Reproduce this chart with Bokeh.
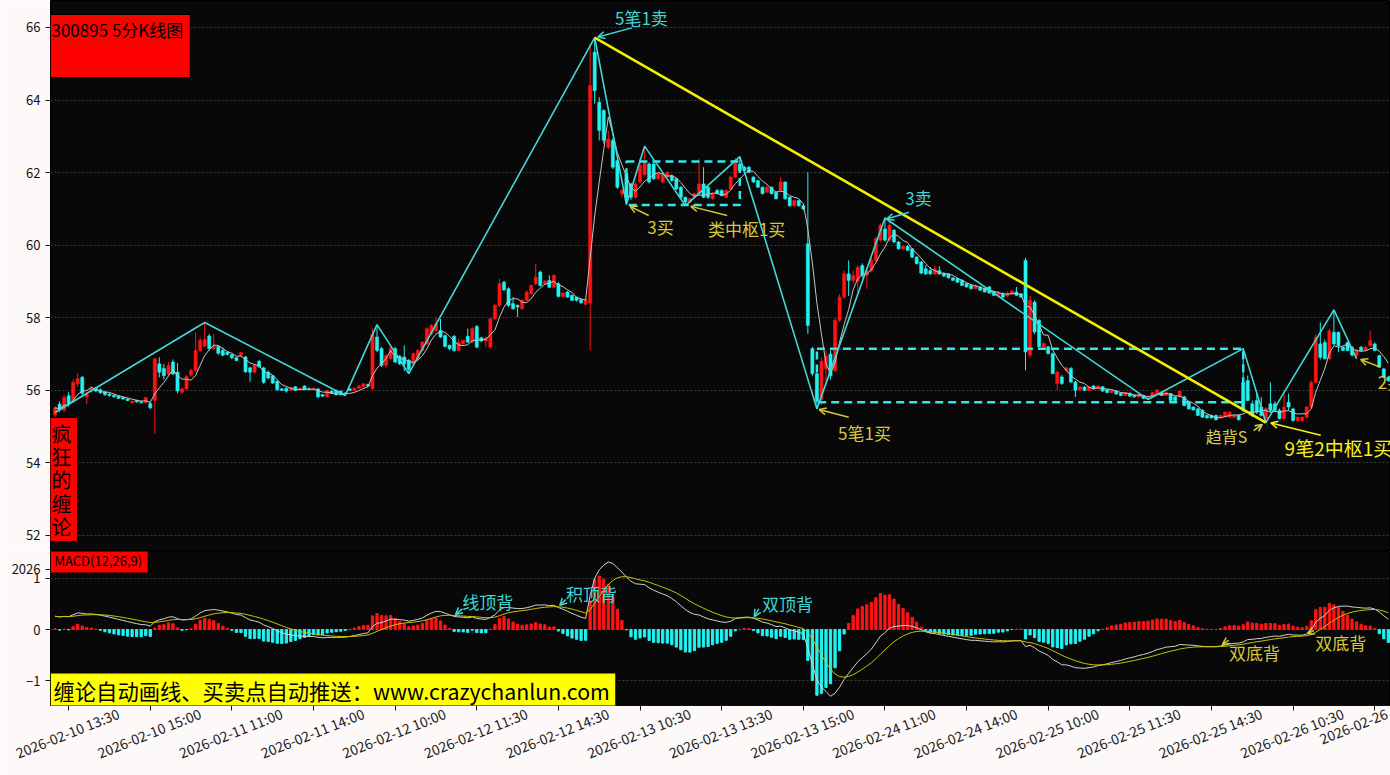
import numpy as np
import pandas as pd
from bokeh.plotting import figure
from bokeh.layouts import column
from bokeh.models import Range1d, FixedTicker, Label, Arrow, OpenHead, ColumnDataSource, LinearAxis
from bokeh.embed import file_html
from bokeh.resources import INLINE

# ---------------- data (5-minute bars, 300895) ----------------
opens = [
    55.32, 55.62, 55.45, 55.85, 55.70, 56.18, 56.36, 55.82, 55.98, 56.06,
    56.02, 55.96, 55.90, 55.86, 55.84, 55.80, 55.76, 55.66, 55.72, 55.68,
    55.66, 55.64, 55.72, 56.73, 56.60, 56.45, 56.78, 56.50, 55.95, 56.04,
    56.42, 56.55, 57.10, 57.22, 57.50, 57.15, 57.20, 57.10, 57.05, 56.98,
    56.90, 56.96, 56.92, 56.62, 56.50, 56.80, 56.62, 56.50, 56.40, 56.25,
    56.04, 56.06, 56.00, 56.10, 56.02, 56.12, 56.04, 56.02, 56.04, 55.88,
    55.82, 55.98, 56.00, 55.98, 55.92, 56.04, 56.00, 56.06, 56.10, 56.16,
    56.05, 57.47, 57.15, 56.69, 56.87, 57.15, 56.94, 56.92, 56.83, 56.73,
    56.87, 57.10, 57.28, 57.56, 57.65, 57.65, 57.51, 57.24, 57.49, 57.10,
    57.28, 57.49, 57.33, 57.76, 57.45, 57.36, 57.19, 57.97, 58.34, 58.98,
    58.80, 58.39, 58.34, 58.25, 58.48, 58.66, 58.94, 59.26, 58.94, 59.03,
    58.84, 58.94, 58.59, 58.71, 58.62, 58.57, 58.50, 58.37, 58.40, 65.32,
    63.94, 63.71, 62.70, 62.89, 62.33, 61.42, 61.97, 61.69, 61.32, 61.74,
    61.95, 62.24, 62.24, 61.83, 61.74, 61.88, 61.92, 61.83, 61.60, 61.32,
    61.19, 61.32, 61.42, 61.69, 61.60, 61.28, 61.51, 61.51, 61.32, 61.55,
    61.88, 62.24, 62.15, 62.15, 61.88, 61.78, 61.60, 61.46, 61.60, 61.46,
    61.51, 61.74, 61.32, 61.09, 61.23, 61.09, 60.04, 57.15, 56.46, 55.75,
    56.60, 57.00, 56.55, 57.93, 58.57, 59.21, 59.03, 59.00, 59.44, 59.17,
    59.30, 59.58, 60.14, 60.45, 60.14, 60.41, 60.09, 59.90, 59.97, 59.90,
    59.67, 59.54, 59.35, 59.30, 59.21, 59.30, 59.22, 59.21, 59.10, 59.08,
    59.03, 58.94, 58.89, 58.80, 58.85, 58.80, 58.85, 58.71, 58.62, 58.66,
    58.60, 58.66, 58.71, 58.66, 59.58, 56.97, 58.43, 57.93, 57.20, 57.20,
    57.01, 56.19, 56.37, 56.55, 56.60, 56.23, 56.02, 56.09, 56.00, 56.12,
    56.04, 56.10, 56.02, 55.94, 55.98, 55.92, 55.86, 55.92, 55.86, 55.82,
    55.86, 55.80, 55.82, 55.91, 55.95, 55.86, 55.91, 55.82, 55.82, 55.82,
    55.67, 55.54, 55.49, 55.45, 55.31, 55.31, 55.31, 55.24, 55.28, 55.26,
    55.26, 55.31, 56.22, 56.27, 55.63, 55.72, 55.54, 55.22, 55.63, 55.63,
    55.45, 55.22, 55.67, 55.49, 55.17, 55.17, 55.26, 55.54, 56.22, 57.28,
    57.32, 56.87, 57.60, 57.60, 57.19, 57.32, 57.19, 56.96, 57.19, 57.10,
    57.23, 57.28, 56.96, 56.59, 56.36,
]
highs = [
    55.56, 55.70, 55.88, 55.95, 56.30, 56.48, 56.40, 55.95, 56.12, 56.10,
    56.05, 55.98, 55.92, 55.90, 55.86, 55.82, 55.78, 55.72, 55.74, 55.72,
    55.82, 55.70, 56.90, 56.91, 56.73, 56.78, 56.85, 56.75, 56.08, 56.42,
    56.60, 57.60, 57.45, 57.87, 57.56, 57.56, 57.25, 57.18, 57.08, 57.00,
    56.92, 57.05, 56.95, 56.65, 56.72, 56.84, 56.65, 56.55, 56.42, 56.28,
    56.06, 56.08, 56.10, 56.12, 56.08, 56.14, 56.08, 56.08, 56.06, 55.90,
    56.02, 56.00, 56.02, 56.00, 55.95, 56.06, 56.08, 56.14, 56.20, 56.18,
    57.70, 57.81, 57.20, 57.00, 57.20, 57.20, 56.98, 57.24, 56.86, 57.04,
    57.14, 57.36, 57.74, 57.83, 58.02, 57.97, 57.54, 57.26, 57.52, 57.42,
    57.40, 57.70, 57.74, 57.80, 57.48, 57.48, 58.00, 58.38, 59.08, 59.02,
    58.84, 58.57, 58.37, 58.52, 58.75, 58.92, 59.49, 59.30, 59.04, 59.17,
    59.20, 58.98, 58.70, 58.74, 58.64, 58.58, 58.52, 58.52, 65.55, 65.72,
    64.08, 63.75, 63.16, 62.95, 62.36, 61.55, 62.00, 61.72, 61.74, 62.40,
    62.73, 62.28, 62.26, 62.00, 62.02, 62.04, 61.95, 61.86, 61.63, 61.34,
    61.30, 61.45, 62.38, 62.15, 61.63, 61.45, 61.55, 61.54, 61.55, 61.92,
    62.40, 62.44, 62.18, 62.18, 61.90, 61.80, 61.62, 61.64, 61.62, 61.48,
    61.87, 61.76, 61.34, 61.25, 61.25, 61.10, 62.01, 57.20, 56.50, 56.90,
    57.10, 57.10, 58.00, 58.65, 59.30, 59.58, 59.30, 59.45, 59.50, 59.35,
    59.65, 60.22, 60.60, 60.75, 60.64, 60.45, 60.12, 60.00, 60.00, 59.92,
    59.70, 59.56, 59.45, 59.40, 59.45, 59.42, 59.25, 59.23, 59.12, 59.10,
    59.06, 58.96, 58.92, 58.92, 58.87, 58.82, 58.88, 58.74, 58.74, 58.70,
    58.72, 58.76, 58.85, 58.68, 59.65, 58.60, 58.48, 57.96, 57.32, 57.22,
    57.04, 56.55, 56.42, 56.65, 56.65, 56.26, 56.12, 56.12, 56.12, 56.15,
    56.14, 56.12, 56.04, 56.02, 56.00, 55.95, 55.96, 55.94, 55.88, 55.90,
    55.88, 55.84, 55.96, 56.04, 55.98, 55.98, 55.93, 55.84, 56.00, 55.85,
    55.70, 55.56, 55.52, 55.48, 55.33, 55.33, 55.33, 55.33, 55.42, 55.42,
    55.33, 55.33, 57.15, 56.41, 55.72, 55.91, 55.82, 55.54, 56.22, 55.70,
    55.50, 55.91, 55.91, 55.52, 55.28, 55.28, 55.56, 56.27, 57.55, 57.87,
    57.40, 57.70, 58.22, 57.62, 57.21, 57.34, 57.22, 57.14, 57.22, 57.22,
    57.64, 57.32, 56.98, 56.62, 56.40,
]
lows = [
    55.22, 55.40, 55.40, 55.55, 55.65, 56.10, 55.85, 55.62, 55.95, 55.95,
    55.90, 55.85, 55.82, 55.80, 55.76, 55.74, 55.70, 55.64, 55.66, 55.64,
    55.64, 55.48, 54.80, 56.36, 56.30, 56.40, 56.42, 55.92, 55.90, 56.00,
    56.38, 56.50, 57.05, 57.18, 57.10, 57.12, 56.98, 56.94, 56.96, 56.86,
    56.80, 56.94, 56.48, 56.24, 56.46, 56.62, 56.18, 56.30, 56.18, 55.98,
    55.98, 55.94, 55.98, 55.98, 56.00, 56.00, 56.00, 56.00, 55.78, 55.82,
    55.80, 55.90, 55.86, 55.86, 55.86, 55.98, 55.98, 56.04, 56.08, 56.10,
    56.00, 57.05, 56.65, 56.62, 56.85, 56.75, 56.70, 56.53, 56.46, 56.70,
    56.85, 57.08, 57.25, 57.52, 57.62, 57.44, 57.18, 57.10, 57.06, 57.08,
    57.26, 57.30, 57.30, 57.16, 57.33, 57.19, 57.15, 57.94, 58.30, 58.74,
    58.30, 58.22, 58.02, 58.22, 58.45, 58.63, 58.90, 58.86, 58.92, 58.82,
    58.82, 58.56, 58.56, 58.55, 58.46, 58.45, 58.39, 58.34, 57.10, 63.90,
    62.89, 62.80, 62.65, 62.10, 61.55, 61.32, 61.12, 61.25, 61.28, 61.70,
    61.90, 61.70, 61.80, 61.80, 61.70, 61.85, 61.75, 61.52, 61.28, 61.09,
    61.16, 61.30, 61.40, 61.30, 61.28, 61.25, 61.40, 61.35, 61.30, 61.52,
    61.85, 62.02, 62.02, 61.98, 61.72, 61.58, 61.40, 61.44, 61.40, 61.26,
    61.48, 61.25, 61.06, 61.06, 61.06, 60.96, 57.56, 56.40, 55.49, 55.60,
    56.20, 56.30, 56.50, 57.88, 58.52, 58.60, 58.95, 58.70, 59.10, 58.80,
    59.25, 59.55, 60.10, 60.10, 60.10, 60.05, 59.88, 59.86, 59.84, 59.65,
    59.47, 59.20, 59.18, 59.18, 59.18, 59.18, 59.12, 59.08, 59.01, 58.96,
    58.88, 58.83, 58.78, 58.78, 58.74, 58.70, 58.66, 58.60, 58.60, 58.55,
    58.58, 58.64, 58.60, 58.55, 56.55, 56.90, 57.55, 57.18, 57.15, 57.00,
    56.45, 56.00, 56.15, 56.50, 56.20, 55.82, 55.98, 55.98, 55.98, 56.02,
    56.02, 55.96, 55.92, 55.92, 55.88, 55.84, 55.84, 55.82, 55.80, 55.80,
    55.76, 55.75, 55.80, 55.88, 55.84, 55.84, 55.70, 55.70, 55.80, 55.56,
    55.47, 55.44, 55.29, 55.24, 55.22, 55.22, 55.17, 55.22, 55.26, 55.24,
    55.24, 55.17, 55.40, 55.70, 55.26, 55.35, 55.28, 55.11, 55.40, 55.40,
    55.20, 55.17, 55.45, 55.13, 55.13, 55.12, 55.22, 55.50, 56.20, 56.85,
    56.85, 56.85, 57.25, 57.05, 57.08, 57.08, 56.94, 56.87, 57.08, 57.08,
    57.20, 57.08, 56.62, 56.34, 56.24,
]
closes = [
    55.52, 55.46, 55.80, 55.62, 56.22, 56.32, 55.92, 55.90, 56.06, 55.98,
    55.94, 55.88, 55.86, 55.82, 55.78, 55.76, 55.72, 55.70, 55.68, 55.66,
    55.80, 55.52, 56.87, 56.50, 56.40, 56.68, 56.45, 55.98, 56.04, 56.38,
    56.55, 57.10, 57.38, 57.40, 57.15, 57.22, 57.02, 56.97, 56.99, 56.90,
    56.82, 57.04, 56.51, 56.50, 56.70, 56.65, 56.22, 56.34, 56.20, 56.02,
    56.00, 55.98, 56.08, 56.00, 56.06, 56.02, 56.02, 56.06, 55.82, 55.84,
    56.00, 55.92, 55.88, 55.88, 55.90, 56.00, 56.06, 56.12, 56.18, 56.12,
    57.55, 57.10, 56.69, 56.96, 57.15, 56.78, 56.73, 56.73, 56.58, 57.01,
    57.10, 57.33, 57.70, 57.79, 57.83, 57.47, 57.21, 57.15, 57.10, 57.33,
    57.38, 57.33, 57.70, 57.19, 57.36, 57.45, 57.97, 58.34, 58.94, 58.77,
    58.34, 58.25, 58.30, 58.48, 58.71, 58.89, 59.12, 58.89, 59.01, 58.84,
    59.17, 58.59, 58.68, 58.57, 58.48, 58.48, 58.41, 58.50, 64.40, 64.26,
    63.16, 62.89, 62.93, 62.15, 61.60, 61.51, 61.32, 61.32, 61.69, 62.20,
    62.28, 61.74, 61.83, 61.97, 61.97, 62.01, 61.78, 61.55, 61.32, 61.19,
    61.28, 61.42, 61.69, 61.32, 61.32, 61.42, 61.42, 61.37, 61.51, 61.88,
    62.29, 62.06, 62.06, 62.01, 61.74, 61.60, 61.42, 61.60, 61.42, 61.28,
    61.74, 61.28, 61.09, 61.23, 61.09, 61.00, 57.79, 56.46, 55.70, 56.80,
    56.95, 56.40, 57.93, 58.57, 59.21, 59.03, 59.17, 59.39, 59.17, 59.30,
    59.58, 60.18, 60.55, 60.14, 60.55, 60.09, 59.90, 59.97, 59.86, 59.67,
    59.49, 59.23, 59.21, 59.21, 59.35, 59.21, 59.15, 59.10, 59.03, 58.98,
    58.89, 58.85, 58.80, 58.89, 58.76, 58.71, 58.68, 58.62, 58.71, 58.57,
    58.68, 58.74, 58.62, 58.57, 57.06, 58.48, 57.61, 57.20, 57.29, 57.01,
    56.46, 56.50, 56.19, 56.62, 56.23, 56.00, 56.09, 56.00, 56.10, 56.04,
    56.12, 55.98, 55.94, 56.00, 55.90, 55.86, 55.94, 55.84, 55.82, 55.88,
    55.78, 55.82, 55.94, 56.01, 55.86, 55.94, 55.72, 55.72, 55.98, 55.58,
    55.49, 55.46, 55.31, 55.26, 55.24, 55.24, 55.19, 55.31, 55.40, 55.40,
    55.31, 55.19, 55.45, 55.72, 55.31, 55.40, 55.31, 55.50, 55.45, 55.45,
    55.22, 55.54, 55.54, 55.17, 55.26, 55.26, 55.54, 56.22, 57.46, 56.91,
    56.87, 57.64, 57.28, 57.23, 57.10, 57.10, 56.97, 57.10, 57.10, 57.19,
    57.37, 57.10, 56.64, 56.36, 56.27,
]

# x-axis labels: one every 18 bars, first one on bar 3 (the last one is cut by the window edge)
tick_labels = [
    "2026-02-10 13:30", "2026-02-10 15:00", "2026-02-11 11:00", "2026-02-11 14:00",
    "2026-02-12 10:00", "2026-02-12 11:30", "2026-02-12 14:30", "2026-02-13 10:30",
    "2026-02-13 13:30", "2026-02-13 15:00", "2026-02-24 11:00", "2026-02-24 14:00",
    "2026-02-25 10:00", "2026-02-25 11:30", "2026-02-25 14:30", "2026-02-26 10:30",
    "2026-02-26 13:30",
]
price_ticks = [52, 54, 56, 58, 60, 62, 64, 66]
macd_ticks = [-1, 0, 1]

# Chan-theory strokes (bi): bar index and price of each turning point
bi_idx = [0, 33, 64, 71, 78, 119, 126, 130, 139, 151, 168, 183, 241, 262, 267, 282, 287]
bi_price = [55.39, 57.87, 55.86, 57.81, 56.46, 65.72, 61.12, 62.73, 61.09, 62.44,
            55.49, 60.75, 55.75, 57.15, 55.11, 58.22, 56.87]

# pivot zones (zhongshu)
zs_left = [126, 168]
zs_right = [151, 262]
zs_low = [61.11, 55.67]
zs_high = [62.31, 57.15]

# trend line (segment)
trend_idx = [119, 267]
trend_price = [65.72, 55.11]

# MACD(12,26,9) state carried in from bars before the window
EMA12_SEED, EMA26_SEED, DEA_SEED = 55.40, 55.13, 0.25

# ---------------- derived ----------------
o = np.array(opens); h = np.array(highs); l = np.array(lows); c = np.array(closes)
N = len(c)
idx = np.arange(N)

FONT = "Noto Sans CJK SC"
PAGE_BG = "#fdf9f9"
PLOT_BG = "#080808"
RED = "#ff1414"
CYAN = "#22f2f2"
BI_COL = "#44d8d8"
ZS_COL = "#33e6ea"
YEL = "#f2f000"
TXT_CYAN = "#3ed6d6"
TXT_YEL = "#d6c83a"
TXT_KHAKI = "#d8cc5e"
TXT_BRIGHT = "#f6f020"

up = c >= o
colors = [RED if u else CYAN for u in up]
ma5 = pd.Series(c).rolling(5, min_periods=1).mean().values

e12, e26, dea = EMA12_SEED, EMA26_SEED, DEA_SEED
difs, deas, hists = [], [], []
for v in c:
    e12 = e12 + 2.0 / 13.0 * (v - e12)
    e26 = e26 + 2.0 / 27.0 * (v - e26)
    dif = e12 - e26
    dea = dea + 2.0 / 10.0 * (dif - dea)
    difs.append(dif); deas.append(dea); hists.append(2.0 * (dif - dea))
hists = np.array(hists)
hist_colors = [RED if v >= 0 else CYAN for v in hists]

tick_pos = [3 + 18 * k for k in range(len(tick_labels))]

W = 1390
X_END = 294.48
x_range = Range1d(-1.0, X_END)

# ---------------- price panel ----------------
p = figure(width=W, height=551, x_range=x_range, y_range=Range1d(51.559, 66.744),
           output_backend="svg", toolbar_location=None, tools="", x_axis_location=None,
           min_border_left=50, min_border_right=0, min_border_top=0, min_border_bottom=0,
           background_fill_color=PLOT_BG, border_fill_color=PAGE_BG,
           outline_line_color="#000000", outline_line_width=1)
p.yaxis.ticker = FixedTicker(ticks=price_ticks)
p.ygrid.ticker = FixedTicker(ticks=price_ticks)
p.xgrid.visible = False
p.ygrid.grid_line_color = "#3c3c3c"
p.ygrid.grid_line_dash = "2 2"
ax = p.yaxis[0]
ax.major_label_text_font = FONT
ax.major_label_text_font_size = "13px"
ax.major_label_text_color = "#111111"
ax.axis_line_color = None
ax.major_tick_line_color = "#111111"
ax.major_tick_out = 5
ax.major_tick_in = 0
ax.minor_tick_line_color = None

src = ColumnDataSource(dict(x=idx, h=h, l=l, top=np.maximum(o, c), bot=np.minimum(o, c), col=colors))
p.segment(x0="x", y0="h", x1="x", y1="l", line_color="col", line_width=1, source=src)
p.vbar(x="x", width=0.7, top="top", bottom="bot", fill_color="col", line_color="col", line_width=0.5, source=src)
p.line(idx, ma5, line_color="#c4c4c4", line_width=1)

p.line(bi_idx, bi_price, line_color=BI_COL, line_width=1.6)
p.quad(left=zs_left, right=zs_right, bottom=zs_low, top=zs_high, fill_alpha=0,
       line_color=ZS_COL, line_width=2.5, line_dash="8 5")
p.line(trend_idx, trend_price, line_color=YEL, line_width=2.6)

top_signals = [
    dict(t="5笔1卖", col=TXT_CYAN, x=129.3, y=66.28, ax=127.2, ay=65.99, tx=119.7, ty=65.74, s="17px"),
    dict(t="3买", col=TXT_YEL, x=133.5, y=60.52, ax=130.9, ay=60.82, tx=126.8, ty=61.07, s="17px"),
    dict(t="类中枢1买", col=TXT_YEL, x=152.5, y=60.46, ax=148.2, ay=60.82, tx=140.2, ty=61.07, s="17px"),
    dict(t="3卖", col=TXT_CYAN, x=190.4, y=61.32, ax=188.3, ay=60.91, tx=183.4, ty=60.72, s="17px"),
    dict(t="5笔1买", col=TXT_YEL, x=178.5, y=54.84, ax=175.0, ay=55.26, tx=168.5, ty=55.47, s="17px"),
    dict(t="趋背S", col=TXT_KHAKI, x=258.3, y=54.73, ax=264.3, ay=54.89, tx=266.2, ty=55.06, s="16px"),
    dict(t="9笔2中枢1买", col=TXT_BRIGHT, x=283.0, y=54.43, ax=279.1, ay=54.76, tx=268.1, ty=55.10, s="19px"),
    dict(t="2买", col=TXT_YEL, x=294.6, y=56.24, ax=292.2, ay=56.64, tx=287.9, ty=56.85, s="17px"),
]


def add_signals(fig, sigs):
    for sg in sigs:
        fig.add_layout(Label(x=sg["x"], y=sg["y"], text=sg["t"], text_color=sg["col"],
                             text_font=FONT, text_font_size=sg["s"],
                             text_align="center", text_baseline="middle"))
        fig.add_layout(Arrow(x_start=sg["ax"], y_start=sg["ay"], x_end=sg["tx"], y_end=sg["ty"],
                             line_color=sg["col"], line_width=1.5,
                             end=OpenHead(size=7, line_color=sg["col"], line_width=1.5)))


add_signals(p, top_signals)

# boxes (screen units relative to the frame's bottom-left; frame bottom at page y=551)
p.add_layout(Label(x=0, y=537, x_units="screen", y_units="screen", text="300895 5分K线图",
                   text_font=FONT, text_font_size="17px", text_color="#000000",
                   text_align="left", text_baseline="top",
                   background_fill_color="#ff0000", border_line_color="#000000", border_line_width=1,
                   padding=dict(left=1, right=7, top=2, bottom=36)))
p.add_layout(Label(x=11, y=134, x_units="screen", y_units="screen", text="疯\n狂\n的\n缠\n论",
                   text_font=FONT, text_font_size="20px", text_color="#000000", text_line_height=0.81,
                   text_align="center", text_baseline="top",
                   background_fill_color="#ff0000", border_line_color="#000000", border_line_width=1,
                   padding=dict(left=6, right=6, top=1, bottom=0)))

# ---------------- MACD panel ----------------
q = figure(width=W, height=224, x_range=x_range, y_range=Range1d(-1.476, 1.515),
           output_backend="svg", toolbar_location=None, tools="",
           min_border_left=50, min_border_right=0, min_border_top=0, min_border_bottom=70,
           background_fill_color=PLOT_BG, border_fill_color=PAGE_BG,
           outline_line_color="#000000", outline_line_width=1)
q.yaxis.ticker = FixedTicker(ticks=macd_ticks + [1.175])
q.yaxis.major_label_overrides = {1.175: "2026"}
q.ygrid.ticker = FixedTicker(ticks=macd_ticks)
q.xgrid.visible = False
q.ygrid.grid_line_color = "#3c3c3c"
q.ygrid.grid_line_dash = "2 2"
ay_ = q.yaxis[0]
ay_.major_label_text_font = FONT
ay_.major_label_text_font_size = "13px"
ay_.major_label_text_color = "#111111"
ay_.axis_line_color = None
ay_.major_tick_line_color = "#111111"
ay_.major_tick_out = 5
ay_.major_tick_in = 0
ay_.minor_tick_line_color = None

# tick marks on the bar positions (no text) ...
axx = q.xaxis[0]
axx.ticker = FixedTicker(ticks=tick_pos)
axx.major_label_overrides = {pos: "" for pos in tick_pos}
axx.major_label_standoff = 0
axx.major_tick_out = 5
axx.major_tick_in = 0
axx.minor_tick_line_color = None
axx.axis_line_color = "#111111"
axx.major_tick_line_color = "#111111"

# ... and slanted labels centred on those ticks (Bokeh ends slanted labels at the anchor);
# the last label runs past the window edge, so only its visible part is kept at the edge
LABEL_SHIFT = 11.0
lab_pos, lab_txt = [], []
for pos, lab in zip(tick_pos, tick_labels):
    if pos + LABEL_SHIFT < X_END:
        lab_pos.append(pos + LABEL_SHIFT); lab_txt.append(lab)
    else:
        lab_pos.append(X_END - 0.1); lab_txt.append(lab[:10])
lab_axis = LinearAxis(ticker=FixedTicker(ticks=lab_pos),
                      major_label_overrides={lp: lt for lp, lt in zip(lab_pos, lab_txt)},
                      major_label_orientation=0.38, major_label_standoff=2,
                      major_label_text_font=FONT, major_label_text_font_size="14px",
                      major_label_text_color="#222222",
                      axis_line_color=None, major_tick_line_color=None, minor_tick_line_color=None,
                      major_tick_out=0, major_tick_in=0)
q.add_layout(lab_axis, "below")

q.vbar(x=idx, width=0.5, top=hists, bottom=0, fill_color=hist_colors, line_color=hist_colors)
q.line(idx, difs, line_color="#d2d2d2", line_width=1)
q.line(idx, deas, line_color="#c8c400", line_width=1)

macd_signals = [
    dict(t="线顶背", col=TXT_CYAN, x=95.4, y=0.54, ax=89.8, ay=0.40, tx=88.3, ty=0.29, s="17px"),
    dict(t="积顶背", col=TXT_CYAN, x=118.3, y=0.70, ax=112.6, ay=0.58, tx=111.3, ty=0.47, s="17px"),
    dict(t="双顶背", col=TXT_CYAN, x=161.5, y=0.50, ax=155.2, ay=0.40, tx=154.2, ty=0.25, s="17px"),
    dict(t="双底背", col=TXT_YEL, x=264.5, y=-0.45, ax=258.8, ay=-0.21, tx=257.4, ty=-0.29, s="17px"),
    dict(t="双底背", col=TXT_YEL, x=283.5, y=-0.25, ax=277.6, ay=-0.02, tx=276.1, ty=-0.08, s="17px"),
]
add_signals(q, macd_signals)

q.add_layout(Label(x=0, y=145, x_units="screen", y_units="screen", text="MACD(12,26,9)",
                   text_font=FONT, text_font_size="13px", text_color="#000000",
                   text_align="left", text_baseline="middle",
                   background_fill_color="#ff0000", border_line_color="#000000", border_line_width=1,
                   padding=dict(left=4, right=6, top=3, bottom=3)))
q.add_layout(Label(x=0, y=15, x_units="screen", y_units="screen",
                   text="缠论自动画线、买卖点自动推送：www.crazychanlun.com",
                   text_font=FONT, text_font_size="21.3px", text_color="#000000",
                   text_align="left", text_baseline="middle",
                   background_fill_color="#ffff00", border_line_color="#000000", border_line_width=1,
                   padding=dict(left=3, right=6, top=2, bottom=2)))

layout = column(p, q, spacing=0)
open("out.html", "w").write(file_html(layout, INLINE))
